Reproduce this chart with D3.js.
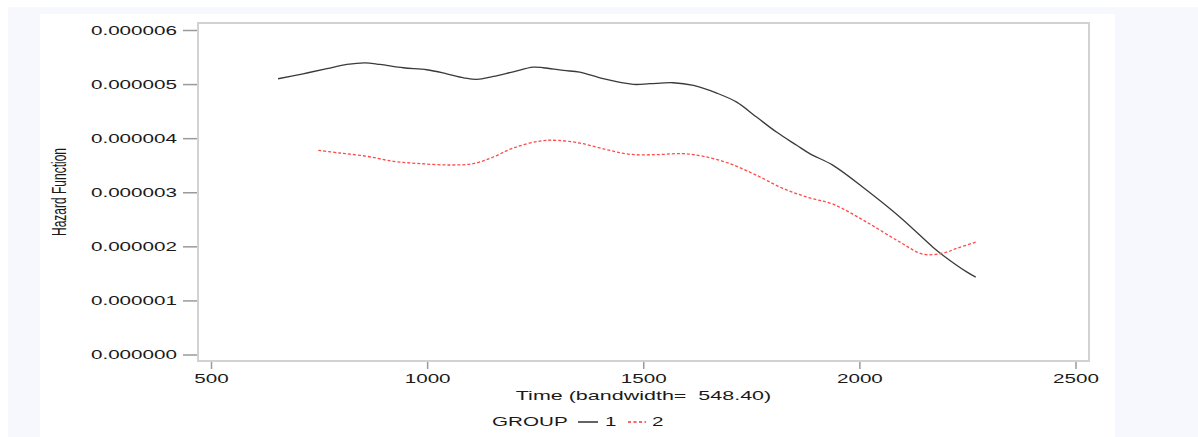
<!DOCTYPE html>
<html>
<head>
<meta charset="utf-8">
<script src="https://cdn.jsdelivr.net/npm/d3@7"></script>
<style>
  html, body { margin: 0; padding: 0; background: #ffffff; }
  svg { display: block; }
  text { font-family: "Liberation Sans", Arial, sans-serif; fill: #1a1a1a; white-space: pre; }
</style>
</head>
<body>
<svg id="chart" width="1198" height="437"></svg>
<script>
// Kernel-smoothed hazard estimates by group
const group1Time = [654, 712, 767, 813, 855, 890, 944, 998, 1044, 1083, 1114, 1152, 1198, 1244, 1268,
  1314, 1352, 1406, 1476, 1514, 1568, 1615, 1669, 1715, 1761, 1807, 1854, 1884, 1938, 2016, 2093, 2169, 2192, 2248, 2268];
const group1Hazard = [5.108e-6, 5.200e-6, 5.293e-6, 5.372e-6, 5.403e-6, 5.372e-6, 5.311e-6, 5.274e-6, 5.200e-6,
  5.126e-6, 5.095e-6, 5.150e-6, 5.237e-6, 5.322e-6, 5.311e-6, 5.261e-6, 5.230e-6, 5.108e-6, 5.003e-6, 5.016e-6,
  5.034e-6, 4.984e-6, 4.842e-6, 4.676e-6, 4.399e-6, 4.122e-6, 3.877e-6, 3.723e-6, 3.507e-6, 3.046e-6, 2.548e-6,
  1.994e-6, 1.846e-6, 1.532e-6, 1.440e-6];

const group2Time = [747, 797, 859, 921, 982, 1052, 1106, 1152, 1198, 1260, 1299, 1352, 1414, 1468, 1530,
  1591, 1638, 1699, 1761, 1823, 1884, 1938, 2016, 2093, 2146, 2192, 2225, 2268];
const group2Hazard = [3.784e-6, 3.735e-6, 3.674e-6, 3.581e-6, 3.539e-6, 3.513e-6, 3.539e-6, 3.661e-6, 3.827e-6,
  3.956e-6, 3.969e-6, 3.919e-6, 3.797e-6, 3.711e-6, 3.705e-6, 3.723e-6, 3.674e-6, 3.539e-6, 3.323e-6, 3.077e-6,
  2.904e-6, 2.788e-6, 2.455e-6, 2.086e-6, 1.865e-6, 1.883e-6, 1.975e-6, 2.086e-6];

const xTicks = [500, 1000, 1500, 2000, 2500];
const yTicks = [0, 1e-6, 2e-6, 3e-6, 4e-6, 5e-6, 6e-6];
const groupLabels = ["1", "2"];
const xTitle = "Time (bandwidth=  548.40)";
const yTitle = "Hazard Function";
const legendTitle = "GROUP";

const svg = d3.select("#chart");
const SX = 1.72; // horizontal stretch applied to all lettering

// background panels
svg.append("rect").attr("x", 8).attr("y", 7).attr("width", 1190).attr("height", 430).attr("fill", "#f7f8fd");
svg.append("rect").attr("x", 40).attr("y", 14).attr("width", 1075).attr("height", 423).attr("fill", "#ffffff");

const frame = { left: 198, right: 1089, top: 23, bottom: 361 };

const x = d3.scaleLinear().domain([500, 2500]).range([211.5, 1076]);
const y = d3.scaleLinear().domain([0, 6e-6]).range([355, 30.5]);

// frame
svg.append("rect")
  .attr("x", frame.left).attr("y", frame.top)
  .attr("width", frame.right - frame.left).attr("height", frame.bottom - frame.top)
  .attr("fill", "none").attr("stroke", "#d2d2d2").attr("stroke-width", 2);

// y axis ticks & labels
const yAxis = svg.append("g");
yAxis.selectAll("line").data(yTicks).join("line")
  .attr("x1", 183).attr("x2", frame.left - 1)
  .attr("y1", d => y(d)).attr("y2", d => y(d))
  .attr("stroke", "#9a9a9a").attr("stroke-width", 1.5);
yAxis.selectAll("text").data(yTicks).join("text")
  .attr("transform", d => `translate(177,${y(d)}) scale(${SX},1)`)
  .attr("text-anchor", "end").attr("dy", "0.36em")
  .style("font-size", "12px")
  .text(d => d3.format(".6f")(d));

// x axis ticks & labels
const xAxis = svg.append("g");
xAxis.selectAll("line").data(xTicks).join("line")
  .attr("x1", d => x(d)).attr("x2", d => x(d))
  .attr("y1", frame.bottom + 1).attr("y2", frame.bottom + 8)
  .attr("stroke", "#9a9a9a").attr("stroke-width", 1.5);
xAxis.selectAll("text").data(xTicks).join("text")
  .attr("transform", d => `translate(${x(d)},383) scale(${SX},1)`)
  .attr("text-anchor", "middle")
  .style("font-size", "12px")
  .text(d => d);

// axis titles
svg.append("text")
  .attr("transform", `translate(${(frame.left + frame.right) / 2},400) scale(${SX},1)`)
  .attr("text-anchor", "middle")
  .attr("xml:space", "preserve")
  .style("font-size", "12.5px")
  .text(xTitle);

svg.append("text")
  .attr("transform", `translate(66,${(frame.top + frame.bottom) / 2}) scale(${SX},1) rotate(-90)`)
  .attr("text-anchor", "middle")
  .style("font-size", "12px")
  .text(yTitle);

// hazard curves
const line = d3.line().x(d => x(d[0])).y(d => y(d[1])).curve(d3.curveCatmullRom.alpha(0.5));

svg.append("path")
  .datum(d3.zip(group1Time, group1Hazard))
  .attr("d", line)
  .attr("fill", "none").attr("stroke", "#3a3a3a").attr("stroke-width", 1.3);

svg.append("path")
  .datum(d3.zip(group2Time, group2Hazard))
  .attr("d", line)
  .attr("fill", "none").attr("stroke", "#ff4a4a").attr("stroke-width", 1.3)
  .attr("stroke-dasharray", "3,2");

// legend
const lg = svg.append("g");
lg.append("text")
  .attr("transform", `translate(492,426) scale(${SX},1)`)
  .style("font-size", "12px").text(legendTitle);
lg.append("line").attr("x1", 578).attr("x2", 598).attr("y1", 422).attr("y2", 422)
  .attr("stroke", "#222").attr("stroke-width", 1.4);
lg.append("text")
  .attr("transform", `translate(605,426) scale(${SX},1)`)
  .style("font-size", "12px").text(groupLabels[0]);
lg.append("line").attr("x1", 628).attr("x2", 646).attr("y1", 422).attr("y2", 422)
  .attr("stroke", "#ff3030").attr("stroke-width", 1.4).attr("stroke-dasharray", "3,2.5");
lg.append("text")
  .attr("transform", `translate(652,426) scale(${SX},1)`)
  .style("font-size", "12px").text(groupLabels[1]);
</script>
</body>
</html>
